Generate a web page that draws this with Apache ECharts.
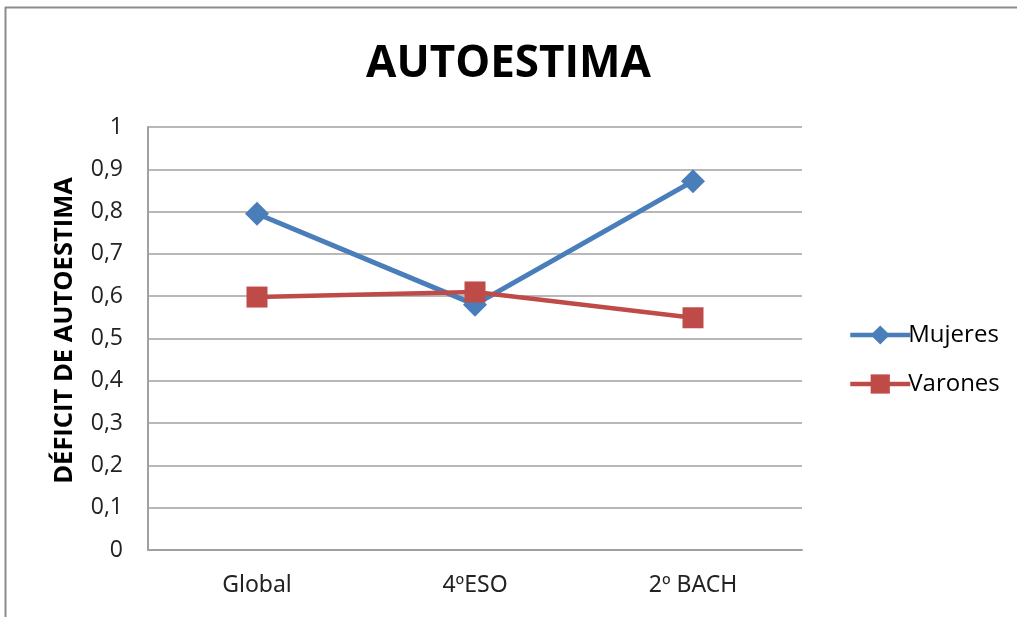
<!DOCTYPE html>
<html>
<head>
<meta charset="utf-8">
<script src="https://cdn.jsdelivr.net/npm/echarts@6/dist/echarts.min.js"></script>
<style>
  html, body { margin: 0; padding: 0; background: #fff; }
  #chart { width: 1017px; height: 617px; }
</style>
</head>
<body>
<div id="chart"></div>
<script>
// Categories and series values
const categories = ['Global', '4ºESO', '2º BACH'];
const mujeres = [0.795, 0.58, 0.872];
const varones = [0.598, 0.61, 0.549];
const yTicks = ['0', '0,1', '0,2', '0,3', '0,4', '0,5', '0,6', '0,7', '0,8', '0,9', '1'];

const chart = echarts.init(document.getElementById('chart'), null, { renderer: 'canvas' });

const blue = '#4A7EBB';
const red = '#BE4B48';

chart.setOption({
  animation: false,
  backgroundColor: '#ffffff',
  title: {
    text: 'AUTOESTIMA',
    left: 'center',
    top: 37,
    textStyle: {
      fontFamily: 'Open Sans',
      fontWeight: 'bold',
      fontSize: 44,
      color: '#000'
    }
  },
  graphic: [
    // chart frame: left and top edges
    { type: 'line', shape: { x1: 5.5, y1: 7, x2: 5.5, y2: 617 }, style: { stroke: '#8c8c8c', lineWidth: 2 } },
    { type: 'line', shape: { x1: 5, y1: 7.5, x2: 1017, y2: 7.5 }, style: { stroke: '#8c8c8c', lineWidth: 2 } }
  ],
  legend: {
    orient: 'vertical',
    left: 843,
    top: 318,
    itemGap: 25,
    itemWidth: 60,
    itemHeight: 24,
    lineStyle: { width: 4.5 },
    textStyle: { fontFamily: 'Open Sans', fontSize: 24, color: '#000', padding: [0, 0, 0, -7] },
    data: ['Mujeres', 'Varones']
  },
  grid: {
    left: 148,
    right: 215,
    top: 127,
    bottom: 67,
    containLabel: false
  },
  xAxis: {
    type: 'category',
    data: categories,
    boundaryGap: true,
    axisLine: { show: true, lineStyle: { color: '#a0a0a0', width: 2 } },
    axisTick: { show: false },
    axisLabel: {
      margin: 24,
      fontFamily: 'Noto Sans',
      fontSize: 23,
      color: '#222'
    }
  },
  yAxis: {
    type: 'value',
    min: 0,
    max: 1,
    interval: 0.1,
    name: 'DÉFICIT DE AUTOESTIMA',
    nameLocation: 'middle',
    nameGap: 70,
    nameRotate: 90,
    nameTextStyle: {
      fontFamily: 'Open Sans',
      fontWeight: 'bold',
      fontSize: 25.5,
      color: '#000',
      padding: [0, 0, 0, 16]
    },
    axisLine: { show: true, lineStyle: { color: '#a0a0a0', width: 2 } },
    axisTick: { show: false },
    splitLine: { show: true, lineStyle: { color: '#a0a0a0', width: 1.5 } },
    axisLabel: {
      margin: 25,
      fontFamily: 'Open Sans',
      fontSize: 23,
      color: '#222',
      formatter: function (v) { return yTicks[Math.round(v * 10)]; }
    }
  },
  series: [
    {
      name: 'Mujeres',
      type: 'line',
      data: mujeres,
      symbol: 'diamond',
      symbolSize: 24,
      lineStyle: { color: blue, width: 5 },
      itemStyle: { color: blue }
    },
    {
      name: 'Varones',
      type: 'line',
      data: varones,
      symbol: 'rect',
      symbolSize: 21,
      lineStyle: { color: red, width: 4.5 },
      itemStyle: { color: red }
    }
  ]
});
</script>
</body>
</html>
